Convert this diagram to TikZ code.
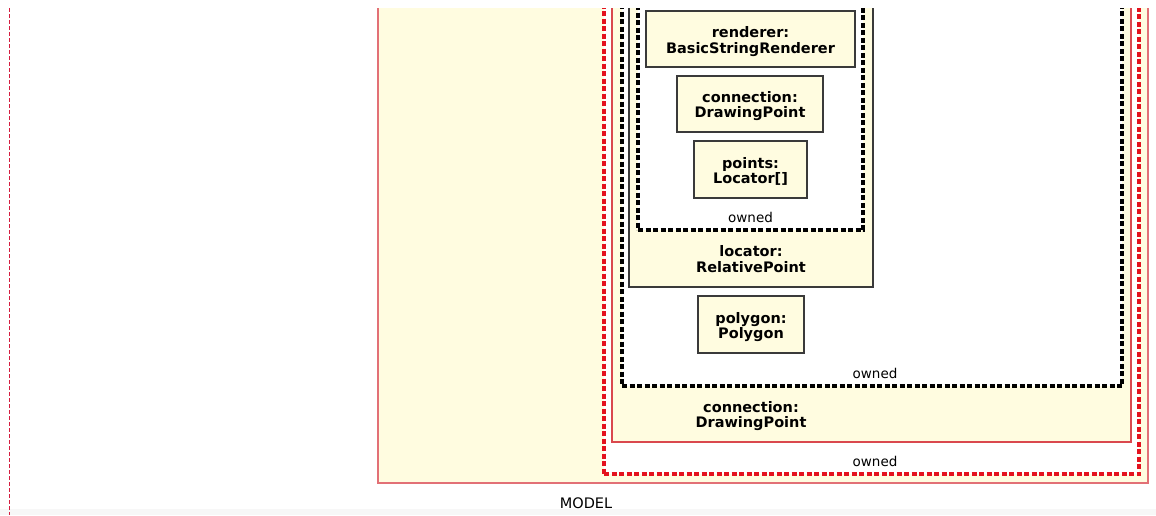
\documentclass[tikz,border=0pt]{standalone}
\usepackage{fontspec}
\setmainfont{DejaVu Sans}
\definecolor{cream}{RGB}{255,252,224}
\definecolor{frame}{RGB}{58,58,58}
\definecolor{ownred}{RGB}{228,18,30}
\definecolor{thinred}{RGB}{218,72,78}
\definecolor{edgered}{RGB}{226,112,118}
\definecolor{pkgred}{RGB}{212,30,64}
\begin{document}
\begin{tikzpicture}[x=1pt,y=-1pt,
  every node/.style={inner sep=0pt, outer sep=0pt},
  objbox/.style={draw=frame, line width=1.1pt, fill=cream},
  modelarea/.style={draw=edgered, line width=1.4pt, fill=cream},
  partarea/.style={draw=thinred, line width=1.1pt, fill=cream},
  ownedred/.style={draw=ownred, line width=3.2pt, dash pattern=on 5pt off 2.5pt, fill=white},
  ownedblack/.style={draw=black, line width=3.4pt, dash pattern=on 5pt off 2.5pt, fill=white},
  holder/.style={draw=frame, line width=1.1pt, fill=cream},
  caption/.style={font=\bfseries\fontsize{14.5}{15.5}\selectfont, align=center},
  tag/.style={font=\fontsize{13.5}{15}\selectfont},
]
\useasboundingbox (0,0) rectangle (1156,515);
\fill[white] (0,0) rectangle (1156,515);
\fill[black!3] (0,509) rectangle (1156,515);

\begin{scope}
\clip (0,8) rectangle (1156,515);

% package boundary on the left
\coordinate (edgetop) at (9.5,8);
\coordinate (edgebot) at (9.5,515);
\draw[pkgred, line width=1.1pt, dash pattern=on 4pt off 2pt] (edgetop) -- (edgebot);

% nested containers, outermost first
\node[modelarea, minimum width=770, minimum height=493] (model) at (763,236.5) {};
\node[ownedred, minimum width=535, minimum height=484] (ownA) at (871.5,232) {};
\node[partarea, minimum width=519, minimum height=452] (conn) at (871.5,216) {};
\node[ownedblack, minimum width=500, minimum height=396] (ownB) at (872,188) {};
\node[holder, minimum width=244, minimum height=297] (loc) at (751,138.5) {};
\node[ownedblack, minimum width=225, minimum height=240] (ownC) at (750.5,110) {};
\end{scope}

% owned parts: frame, then its two-line caption
\node[objbox, minimum width=209, minimum height=56] (renderer) at (750.5,39) {};
\node[caption] (renderertxt) at ([yshift=-2.5]renderer.center) {renderer:\\BasicStringRenderer};
\node[objbox, minimum width=146, minimum height=56] (connbox) at (750,104) {};
\node[caption] (connboxtxt) at ([yshift=-2]connbox.center) {connection:\\DrawingPoint};
\node[objbox, minimum width=113, minimum height=57] (points) at (750.5,169.5) {};
\node[caption] (pointstxt) at ([yshift=-2]points.center) {points:\\Locator[]};
\node[objbox, minimum width=106, minimum height=57] (polygon) at (751,324.5) {};
\node[caption] (polygontxt) at ([yshift=-2.5]polygon.center) {polygon:\\Polygon};

% container captions
\node[tag, anchor=base] (ownCtag) at ([yshift=8]ownC.south) {owned};
\node[caption] (loctag) at (751,259) {locator:\\RelativePoint};
\node[tag, anchor=base] (ownBtag) at ([xshift=3,yshift=8]ownB.south) {owned};
\node[caption] (conntag) at (751,416) {connection:\\DrawingPoint};
\node[tag, anchor=base] (ownAtag) at ([xshift=3.5,yshift=8]ownA.south) {owned};
\node[font=\fontsize{14.5}{16}\selectfont] (modeltag) at (586,503.5) {MODEL};
\end{tikzpicture}
\end{document}
